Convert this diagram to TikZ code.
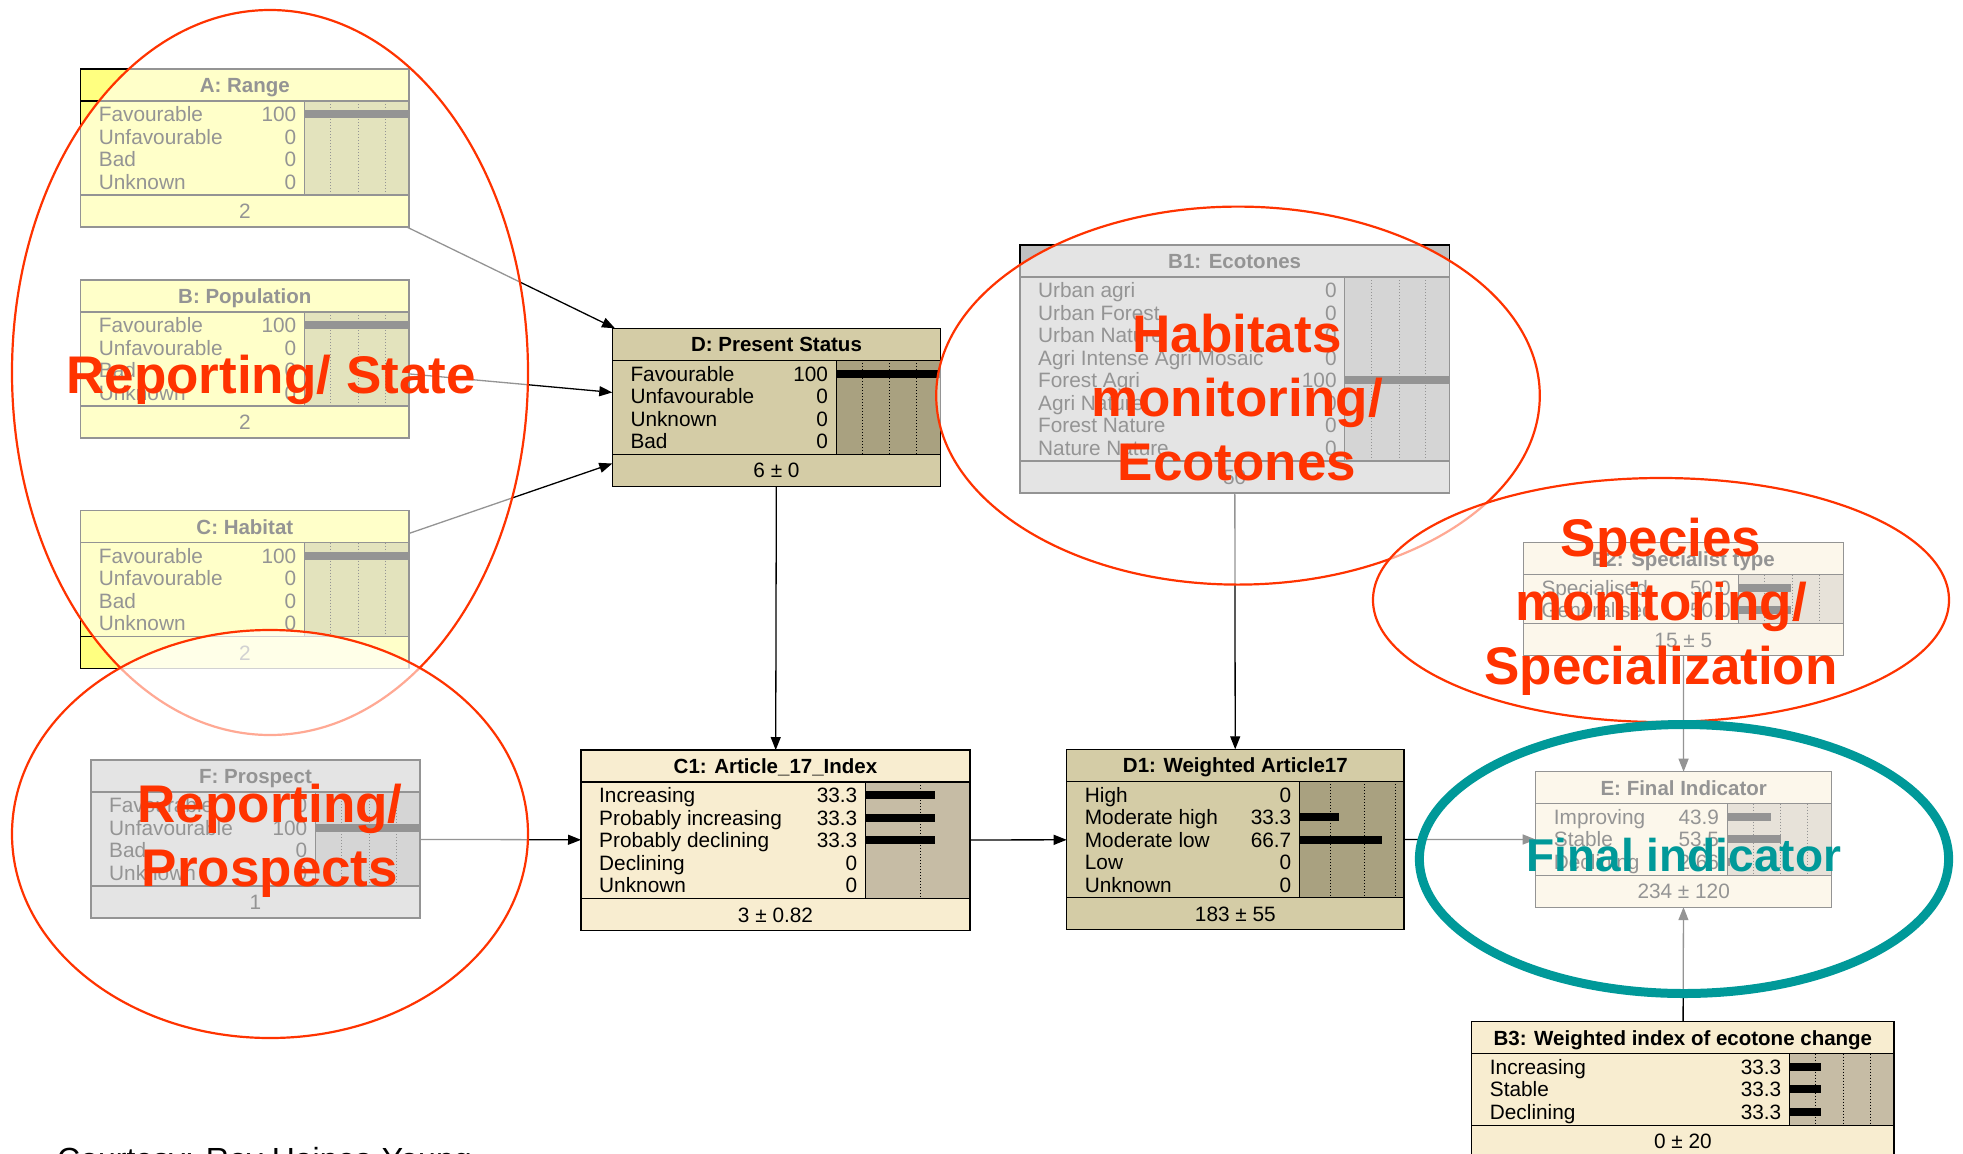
\documentclass[tikz,border=0pt]{standalone}
\usepackage{fontspec}
\setmainfont{Liberation Sans}
\usetikzlibrary{arrows.meta}

\definecolor{tanbody}{RGB}{212,204,166}
\definecolor{tanbar}{RGB}{169,161,128}
\definecolor{creambody}{RGB}{248,237,208}
\definecolor{creambar}{RGB}{198,188,165}
\definecolor{yelbody}{RGB}{255,255,128}
\definecolor{yelbar}{RGB}{190,190,100}
\definecolor{greybody}{RGB}{192,192,192}
\definecolor{greybar}{RGB}{155,155,155}
\definecolor{labred}{RGB}{255,51,0}
\definecolor{labteal}{RGB}{0,153,153}

\tikzset{
  bnbox/.style={draw=black, line width=1.3pt, inner sep=0pt, outer sep=0pt},
  bnline/.style={draw=black, line width=1.3pt},
  bngrid/.style={black, line width=1pt, dotted},
  bntitle/.style={font=\fontsize{20.5}{24}\selectfont\bfseries, anchor=base, inner sep=0pt},
  bntext/.style={font=\fontsize{20.8}{24}\selectfont, inner sep=0pt},
  link/.style={draw=black, line width=1.3pt, -{Triangle[length=13pt,width=10pt]}},
  veil/.style={fill=white, fill opacity=0.58},
  bigred/.style={text=labred, font=\fontsize{53}{64}\selectfont\bfseries, align=center, inner sep=0pt},
}

% #1 name, #2 left, #3 top, #4 width, #5 rows, #6 colour set, #7 title, #8 footer
\newcommand{\bnnode}[8]{%
  \pgfmathsetmacro{\bnh}{68+#5*22.5}
  \node[bnbox, fill=#6body, minimum width=#4pt, minimum height=\bnh pt, anchor=north west] (#1) at (#2,#3) {};
  \filldraw[fill=#6bar, draw=black, line width=1.3pt] ([xshift=-104.5pt,yshift=-32pt]#1.north east) rectangle ([yshift=32pt]#1.south east);
  \draw[bnline] ([yshift=-32pt]#1.north west) -- ([yshift=-32pt]#1.north east);
  \draw[bnline] ([yshift=32pt]#1.south west) -- ([yshift=32pt]#1.south east);
  \node[bntitle] at ([yshift=-23.5pt]#1.north) {#7};
  \node[bntext, anchor=base] at ([yshift=8.5pt]#1.south) {#8};
}

% #1 name, #2 grid offsets, #3 label/value/bar
\newcommand{\bnrows}[3]{%
  \foreach \g in {#2} {
    \pgfmathsetmacro{\gx}{\g-104.5}
    \draw[bngrid] ([xshift=\gx pt,yshift=-32pt]#1.north east) -- ([xshift=\gx pt,yshift=32pt]#1.south east);
  }
  \foreach \lab/\val/\len [count=\i] in {#3} {
    \pgfmathsetmacro{\yc}{-34-(\i-0.5)*22.5}
    \pgfmathsetmacro{\yb}{\yc-7.5}
    \pgfmathsetmacro{\yt}{\yc+4}
    \node[bntext, anchor=base west] at ([xshift=18pt,yshift=\yb pt]#1.north west) {\lab};
    \node[bntext, anchor=base east] at ([xshift=-112.5pt,yshift=\yb pt]#1.north east) {\val};
    \fill[black] ([xshift=-104.5pt,yshift=\yt pt]#1.north east) rectangle ++(\len,8);
  }
}

\begin{document}
\begin{tikzpicture}[x=1pt, y=-1pt]
    \useasboundingbox (0,0) rectangle (1963,1154);
    \fill[white] (0,0) rectangle (1963,1154);

    % network nodes
    \bnnode{A}{80.7}{69}{328.3}{4}{yel}{A: Range}{2}
    \bnrows{A}{26,53.5,80.5}{Favourable/100/104.5, Unfavourable/0/0, Bad/0/0, Unknown/0/0}
    \bnnode{B}{80.7}{280}{328.3}{4}{yel}{B: Population}{2}
    \bnrows{B}{26,53.5,80.5}{Favourable/100/104.5, Unfavourable/0/0, Bad/0/0, Unknown/0/0}
    \bnnode{C}{80.7}{510.7}{328.3}{4}{yel}{C: Habitat}{2}
    \bnrows{C}{26,53.5,80.5}{Favourable/100/104.5, Unfavourable/0/0, Bad/0/0, Unknown/0/0}
    \bnnode{D}{612.3}{328.3}{328.4}{4}{tan}{D: Present Status}{6 ± 0}
    \bnrows{D}{26,53.5,80.5}{Favourable/100/104.5, Unfavourable/0/0, Unknown/0/0, Bad/0/0}
    \bnnode{B1}{1020}{245}{429.3}{8}{grey}{B1: Ecotones}{50}
    \bnrows{B1}{27,54.5,80.5}{Urban agri/0/0, Urban Forest/0/0, Urban Nature/0/0, Agri Intense Agri Mosaic/0/0, Forest Agri/100/105, Agri Nature/0/0, Forest Nature/0/0, Nature Nature/0/0}
    \bnnode{E2}{1523.3}{542.7}{320}{2}{cream}{E2: Specialist type}{15 ± 5}
    \bnrows{E2}{26,53.5,80.5}{Specialised/50.0/52, Generalised/50.0/52}
    \bnnode{E}{1535.7}{771.7}{296}{3}{cream}{E: Final Indicator}{234 ± 120}
    \bnrows{E}{26,53.5,80.5}{Improving/43.9/43.3, Stable/53.5/54, Declining/2.66/2.6}
    \bnnode{F}{91}{760}{329}{4}{grey}{F: Prospect}{1}
    \bnrows{F}{26,53.5,80.5}{Favourable/0/0, Unfavourable/100/104.5, Bad/0/0, Unknown/0/0}
    \bnnode{C1}{581}{750}{389}{5}{cream}{C1: Article\_17\_Index}{3 ± 0.82}
    \bnrows{C1}{55}{Increasing/33.3/69, Probably increasing/33.3/69, Probably declining/33.3/69, Declining/0/0, Unknown/0/0}
    \bnnode{D1}{1066.7}{749.3}{337.3}{5}{tan}{D1: Weighted Article17}{183 ± 55}
    \bnrows{D1}{31.4,64.7,95.7}{High/0/0, Moderate high/33.3/39, Moderate low/66.7/82.4, Low/0/0, Unknown/0/0}
    \bnnode{B3}{1471.7}{1021.7}{422.3}{3}{cream}{B3: Weighted index of ecotone change}{0 ± 20}
    \bnrows{B3}{26,53.5,80.5}{Increasing/33.3/31.4, Stable/33.3/31.4, Declining/33.3/31.4}

    % links
    \draw[link] (A) -- (D);
    \draw[link] (B) -- (D);
    \draw[link] (C) -- (D);
    \draw[link] (D) -- (C1);
    \draw[link] (F) -- (C1);
    \draw[link] (C1) -- (D1);
    \draw[link] (B1) -- (D1);
    \draw[link] (D1) -- (E);
    \draw[link] (E2) -- (E);
    \draw[link] (B3) -- (E);

    % highlight ellipses
    \draw[veil, draw=labred, line width=2.2pt] (270,372.5) ellipse [x radius=258, y radius=362.5];
    \draw[veil, draw=labred, line width=2.2pt] (270,834) ellipse [x radius=258, y radius=204];
    \draw[veil, draw=labred, line width=2.2pt] (1238,395.6) ellipse [x radius=301.8, y radius=189];
    \draw[veil, draw=labred, line width=2.2pt] (1661,600) ellipse [x radius=288, y radius=122];
    \draw[veil, draw=labteal, line width=9pt] (1684,859) ellipse [x radius=264.6, y radius=134.5];

    \node[bigred, anchor=base] (state) at (271,393) {Reporting/ State};
    \node[bigred] (habitats) at (1237,398) {Habitats\\monitoring/\\Ecotones};
    \node[bigred] (species) at (1661,607) {Species\\monitoring/\\Specialization};
    \node[bigred] (prospects) at (270,841) {Reporting/\\Prospects};
    \node[text=labteal, font=\fontsize{46}{54}\selectfont\bfseries, anchor=base, inner sep=0pt] (final) at (1684,871.7) {Final indicator};

    \node[font=\fontsize{32}{38}\selectfont, anchor=base west, inner sep=0pt] (credit) at (57,1170) {Courtesy: Roy Haines-Young};
\end{tikzpicture}
\end{document}
